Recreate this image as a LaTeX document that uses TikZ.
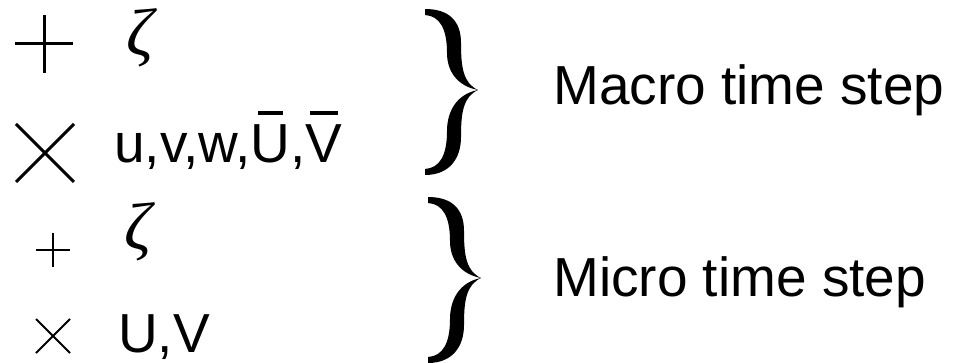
\documentclass[tikz,border=0pt]{standalone}
\usepackage{fontspec}
\setmainfont{Liberation Sans}
\newfontfamily\greekfont{Liberation Serif}
\usetikzlibrary{positioning}
\newcommand\barred[2]{\ooalign{#1\cr\hidewidth\raisebox{48pt}{\rule{#2}{3.8pt}}\hidewidth\cr}}
\tikzset{
  symbig/.style   = {draw=black, line width=3pt},
  symsmall/.style = {draw=black, line width=2.1pt},
  lbl/.style      = {font=\fontsize{55}{66}\selectfont, anchor=base west, inner sep=0pt},
  greek/.style    = {font=\fontsize{67}{76}\greekfont\itshape, anchor=base west, inner sep=0pt},
  curly/.pic      = {
    \fill (0,0) .. controls (24,0) and (36,12) .. (36,34)
      .. controls (36,58) and (38,74) .. (53,81)
      .. controls (38,88) and (36,104) .. (36,128)
      .. controls (36,150) and (24,166) .. (0,166) -- (0,160)
      .. controls (15,159) and (22,146) .. (22,122)
      .. controls (22,102) and (32,85) .. (53,81)
      .. controls (32,77) and (22,62) .. (22,44)
      .. controls (22,20) and (15,7) .. (0,6) -- cycle;
  },
}
\begin{document}
\begin{tikzpicture}[x=1pt,y=-1pt]
    \useasboundingbox (0,0) rectangle (958,363);
    % symbols
    \draw[symbig] (44,44) +(-29,0) -- +(29,0) +(0,-29) -- +(0,29);
    \draw[symbig] (45,153) +(-29,-29) -- +(29,29) +(-29,29) -- +(29,-29);
    \draw[symsmall] (53,250) +(-17,0) -- +(17,0) +(0,-17) -- +(0,17);
    \draw[symsmall] (53,336) +(-17,-17) -- +(17,17) +(-17,17) -- +(17,-17);
    % variables
    \node[greek] (zetamacro) at (126,56) {ζ};
    \node[lbl] (velmacro) at (114,163) {u,v,w,\barred{U}{25pt},\barred{V}{28pt}};
    \node[greek] (zetamicro) at (124,250) {ζ};
    \node[lbl] (velmicro) at (118,352) {U,V};
    % braces
    \pic at (425,9) {curly};
    \pic at (428,197) {curly};
    \node[lbl] (macro) at (553,105) {Macro time step};
    \node[lbl] (micro) at (553,297) {Micro time step};
\end{tikzpicture}
\end{document}
